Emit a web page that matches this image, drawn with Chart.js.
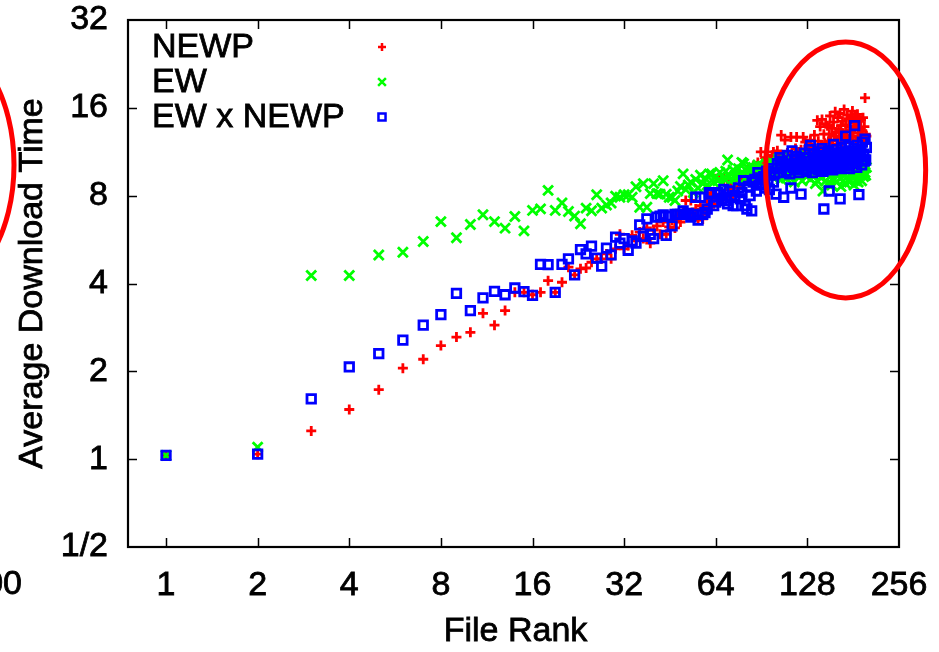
<!DOCTYPE html>
<html>
<head>
<meta charset="utf-8">
<script src="https://cdn.jsdelivr.net/npm/chart.js@4.4.0/dist/chart.umd.min.js"></script>
<style>
  html, body { margin: 0; padding: 0; background: #fff; }
  #chart { display: block; }
</style>
</head>
<body>
<canvas id="chart" width="939" height="652"></canvas>
<script>
const fileRankTicks = [1, 2, 4, 8, 16, 32, 64, 128, 256];
const timeTicks = [0.5, 1, 2, 4, 8, 16, 32];
const seriesNames = ['NEWP', 'EW', 'EW x NEWP'];
const xTitle = 'File Rank';
const yTitle = 'Average Download Time';

// average download time per file rank (rank 1..200)
const newpTimes = [
  1.03, 1.04, 1.25, 1.48, 1.73, 2.05, 2.20, 2.45, 2.62, 2.72,
  3.16, 2.88, 3.23, 3.73, 3.73, 3.66, 3.73, 4.09, 3.73, 4.04,
  4.55, 4.28, 4.49, 4.52, 4.73, 4.86, 4.86, 5.05, 4.86, 5.26,
  5.9, 5.26, 5.4, 5.85, 5.6, 6.0, 5.7, 6.2, 5.5, 6.1,
  6.3, 5.9, 6.5, 5.9, 6.25, 6.6, 6.2, 6.8, 6.5, 7.0,
  7.7, 6.8, 7.7, 6.9, 7.2, 6.6, 7.4, 6.66, 7.1, 7.6,
  7.8, 8.2, 7.5, 8.0, 7.7, 9.4, 8.1, 9.1, 7.9, 9.0,
  8.4, 8.8, 8.1, 9.0, 8.5, 9.3, 8.7, 9.2, 8.9, 9.6,
  9.1, 9.8, 9.3, 9.0, 10.1, 9.5, 9.9, 10.4, 9.4, 11.3,
  9.8, 10.2, 10.8, 9.7, 10.5, 10.1, 10.6, 11.0, 11.3, 10.4,
  10.6, 11.4, 10.2, 11.0, 12.9, 10.3, 10.8, 12.4, 10.5, 11.2,
  10.9, 10.4, 12.7, 11.1, 10.7, 10.5, 11.6, 12.7, 10.8, 11.3,
  10.8, 11.5, 11.0, 12.7, 10.6, 12.2, 11.3, 10.9, 11.8, 11.1,
  12.4, 11.2, 11.7, 10.7, 12.9, 11.4, 11.0, 14.5, 12.3, 11.6,
  13.8, 11.9, 14.6, 11.3, 13.0, 12.1, 14.1, 11.5, 13.9, 12.3,
  13.0, 15.0, 12.3, 13.6, 11.9, 14.3, 12.8, 15.5, 13.2, 12.0,
  14.8, 13.5, 12.6, 15.3, 13.9, 12.2, 14.4, 13.1, 15.8, 12.9,
  14.0, 13.3, 15.1, 12.5, 14.7, 13.8, 12.7, 14.9, 13.4, 15.6,
  12.8, 14.2, 13.6, 14.9, 12.4, 13.9, 15.2, 13.1, 14.6, 12.6,
  13.7, 14.5, 12.9, 13.3, 14.8, 12.2, 13.8, 17.3, 13.0, 12.8
];

const ewTimes = [
  1.03, 1.10, 4.26, 4.26, 5.01, 5.12, 5.57, 6.52, 5.74, 6.37,
  6.88, 6.52, 6.19, 6.79, 6.06, 7.12, 7.21, 8.34, 7.12, 7.56,
  7.06, 6.81, 6.41, 7.25, 7.10, 8.06, 7.25, 7.43, 7.55, 7.97,
  7.9, 8.06, 8.06, 7.9, 8.58, 7.3, 8.8, 7.3, 8.13, 8.8,
  8.13, 8.1, 9.0, 8.1, 7.9, 7.9, 7.7, 8.3, 8.6, 9.5,
  8.4, 8.7, 8.9, 8.2, 9.1, 8.5, 9.4, 8.8, 9.2, 8.7,
  9.5, 9.5, 8.9, 9.3, 9.0, 9.6, 8.8, 9.2, 9.7, 10.6,
  9.3, 9.0, 9.8, 9.4, 9.1, 9.9, 9.5, 10.4, 10.3, 9.2,
  9.7, 9.4, 10.1, 9.6, 10.0, 9.3, 9.9, 10.2, 9.5, 9.8,
  10.1, 9.4, 9.7, 10.3, 9.6, 9.9, 10.5, 9.3, 10.0, 9.7,
  10.2, 9.4, 10.7, 9.8, 9.1, 10.4, 9.6, 10.0, 9.2, 10.6,
  9.7, 10.9, 9.3, 10.1, 9.8, 8.9, 10.3, 9.5, 10.8, 9.9,
  9.4, 10.5, 9.0, 10.2, 9.7, 11.0, 9.3, 10.0, 9.6, 10.4,
  9.1, 10.7, 9.8, 9.4, 10.3, 8.8, 9.9, 9.0, 10.6, 9.5,
  10.1, 9.2, 10.8, 8.3, 9.7, 10.4, 9.0, 10.2, 8.8, 9.6,
  10.5, 9.3, 10.0, 8.7, 9.8, 10.9, 9.1, 10.3, 9.5, 8.9,
  10.1, 9.6, 10.6, 9.2, 8.6, 9.9, 10.4, 9.0, 10.7, 9.4,
  8.8, 10.2, 9.7, 10.5, 9.1, 8.9, 10.0, 9.5, 10.8, 9.3,
  9.8, 8.7, 10.3, 9.6, 9.0, 10.6, 9.2, 8.9, 10.1, 9.7,
  9.4, 10.4, 9.0, 9.8, 10.2, 9.3, 10.7, 9.6, 9.4, 10.0
];

const ewNewpTimes = [
  1.03, 1.04, 1.61, 2.07, 2.30, 2.56, 2.88, 3.13, 3.70, 3.23,
  3.57, 3.76, 3.66, 3.86, 3.75, 3.64, 4.65, 4.64, 3.73, 4.65,
  4.86, 4.28, 5.23, 5.05, 5.37, 4.89, 4.59, 5.29, 5.01, 5.77,
  5.5, 5.7, 5.2, 5.6, 5.5, 6.35, 5.8, 6.66, 5.9, 5.7,
  6.75, 6.8, 6.88, 5.85, 6.8, 6.3, 6.9, 6.9, 6.9, 7.1,
  6.9, 6.95, 6.76, 6.9, 7.9, 6.6, 7.9, 6.9, 7.0, 7.2,
  8.2, 8.1, 7.4, 7.6, 8.2, 8.1, 7.8, 8.4, 7.7, 7.5,
  8.3, 7.9, 7.4, 8.0, 7.4, 8.5, 7.8, 8.2, 9.0, 7.4,
  7.2, 8.6, 8.0, 7.1, 8.9, 9.1, 8.3, 9.6, 8.7, 9.2,
  8.8, 9.3, 8.5, 9.7, 9.0, 8.4, 9.4, 9.9, 8.9, 9.5,
  8.1, 10.3, 9.6, 10.8, 9.9, 10.5, 7.9, 10.1, 9.7, 11.0,
  10.2, 9.5, 8.5, 11.4, 10.0, 10.6, 9.8, 10.9, 10.3, 9.6,
  10.7, 8.1, 10.4, 9.9, 11.2, 10.1, 9.7, 10.8, 10.2, 11.5,
  11.9, 10.0, 9.6, 10.7, 11.1, 9.9, 10.4, 10.9, 9.8, 11.3,
  10.5, 10.0, 11.6, 9.7, 7.2, 10.6, 11.0, 9.9, 10.3, 11.4,
  8.3, 10.7, 10.1, 11.2, 9.8, 12.0, 10.4, 10.9, 10.0, 11.5,
  10.6, 9.9, 11.1, 7.8, 10.3, 11.7, 10.8, 10.2, 11.3, 10.5,
  12.8, 10.1, 11.0, 10.6, 11.8, 9.9, 10.7, 11.4, 10.3, 11.1,
  10.8, 11.6, 13.9, 10.4, 11.2, 10.0, 11.9, 10.7, 8.06, 11.3,
  10.9, 11.5, 10.2, 12.2, 10.6, 11.1, 10.5, 12.5, 10.6, 11.7
];

const FONT = "'Liberation Sans', Arial, sans-serif";

function byRank(values) {
  return values.map((v, i) => ({ x: i + 1, y: v }));
}

const seriesStyles = [
  { color: '#ff0000', pointStyle: 'cross', radius: 5, borderWidth: 2.8, order: 3 },
  { color: '#00ff00', pointStyle: 'crossRot', radius: 7, borderWidth: 2.8, order: 2 },
  { color: '#0000ff', pointStyle: 'rect', radius: 6, borderWidth: 2.8, order: 1 }
];
const seriesData = [newpTimes, ewTimes, ewNewpTimes];

const datasets = seriesNames.map((name, i) => ({
  label: name,
  data: byRank(seriesData[i]),
  pointStyle: seriesStyles[i].pointStyle,
  pointRadius: seriesStyles[i].radius,
  pointBorderWidth: seriesStyles[i].borderWidth,
  borderColor: seriesStyles[i].color,
  backgroundColor: 'rgba(0,0,0,0)',
  order: seriesStyles[i].order
}));

function noOverflow(s) {
  s.paddingLeft = 0;
  s.paddingRight = 0;
  s.paddingTop = 0;
  s.paddingBottom = 0;
}

function heavyText(ctx, text, x, y) {
  ctx.strokeText(text, x, y);
  ctx.fillText(text, x, y);
}

// frame with inward ticks, axis titles, legend and the red marker ellipses
const decorations = {
  id: 'decorations',
  afterDraw(chart) {
    const ctx = chart.ctx;
    const area = chart.chartArea;
    const xs = chart.scales.x;
    const ys = chart.scales.y;
    ctx.save();

    ctx.strokeStyle = '#000';
    ctx.lineWidth = 1.5;
    ctx.beginPath();
    fileRankTicks.forEach(v => {
      const px = Math.round(xs.getPixelForValue(v)) + 0.5;
      if (px < area.left + 2 || px > area.right - 2) return;
      ctx.moveTo(px, area.bottom); ctx.lineTo(px, area.bottom - 9);
      ctx.moveTo(px, area.top); ctx.lineTo(px, area.top + 9);
    });
    timeTicks.forEach(v => {
      const py = Math.round(ys.getPixelForValue(v)) + 0.5;
      if (py < area.top + 2 || py > area.bottom - 2) return;
      ctx.moveTo(area.left, py); ctx.lineTo(area.left + 9, py);
      ctx.moveTo(area.right, py); ctx.lineTo(area.right - 9, py);
    });
    ctx.stroke();

    ctx.lineWidth = 2.2;
    ctx.strokeRect(area.left, area.top, area.right - area.left, area.bottom - area.top);

    ctx.font = '34px ' + FONT;
    ctx.fillStyle = '#000';
    ctx.strokeStyle = '#000';
    ctx.lineWidth = 0.8;
    ctx.textBaseline = 'middle';

    // axis titles
    ctx.textAlign = 'center';
    heavyText(ctx, xTitle, (area.left + area.right) / 2 + 2, 632);
    ctx.save();
    ctx.translate(33, (area.top + area.bottom) / 2);
    ctx.rotate(-Math.PI / 2);
    heavyText(ctx, yTitle, 0, 0);
    ctx.restore();

    // legend
    ctx.textAlign = 'left';
    const legendY = [47, 82, 117];
    seriesNames.forEach((name, i) => {
      ctx.fillStyle = '#000';
      ctx.strokeStyle = '#000';
      ctx.lineWidth = 0.8;
      heavyText(ctx, name, 152, legendY[i] + 1);
      const st = seriesStyles[i];
      ctx.strokeStyle = st.color;
      ctx.fillStyle = 'rgba(0,0,0,0)';
      ctx.lineWidth = 2.5;
      Chart.helpers.drawPoint(ctx, {
        pointStyle: st.pointStyle,
        radius: i === 0 ? 4 : (i === 1 ? 5.5 : 5),
        rotation: 0,
        borderWidth: 2.5
      }, 382, legendY[i]);
    });

    // red ellipses
    ctx.strokeStyle = '#ff0000';
    ctx.lineWidth = 5;
    ctx.beginPath();
    ctx.ellipse(xs.getPixelForValue(171), ys.getPixelForValue(9.8), 80, 128, 0, 0, Math.PI * 2);
    ctx.stroke();
    ctx.beginPath();
    ctx.ellipse(-66, 165, 80, 128, 0, 0, Math.PI * 2);
    ctx.stroke();

    // stray label from neighbouring panel
    ctx.fillStyle = '#000';
    ctx.strokeStyle = '#000';
    ctx.lineWidth = 0.8;
    ctx.textAlign = 'right';
    heavyText(ctx, '100', 22, 585);
    ctx.restore();
  }
};

const ctx = document.getElementById('chart').getContext('2d');
new Chart(ctx, {
  type: 'scatter',
  data: { datasets: datasets },
  options: {
    responsive: false,
    animation: false,
    layout: { padding: { top: 20, right: 40, left: 0, bottom: 0 } },
    plugins: {
      legend: { display: false },
      tooltip: { enabled: false }
    },
    scales: {
      x: {
        type: 'logarithmic',
        min: 0.75,
        max: 256,
        grid: { display: false },
        border: { display: false },
        afterBuildTicks: s => { s.ticks = fileRankTicks.map(v => ({ value: v })); },
        afterFit: s => { s.height = 105; noOverflow(s); },
        ticks: {
          color: '#000',
          font: { family: FONT, size: 34 },
          textStrokeColor: '#000',
          textStrokeWidth: 0.8,
          padding: 10,
          maxRotation: 0,
          autoSkip: false,
          callback: v => String(v)
        }
      },
      y: {
        type: 'logarithmic',
        min: 0.5,
        max: 32,
        grid: { display: false },
        border: { display: false },
        afterBuildTicks: s => { s.ticks = timeTicks.map(v => ({ value: v })); },
        afterFit: s => { s.width = 128; noOverflow(s); },
        ticks: {
          color: '#000',
          font: { family: FONT, size: 34 },
          textStrokeColor: '#000',
          textStrokeWidth: 0.8,
          padding: 12,
          autoSkip: false,
          callback: v => (v === 0.5 ? '1/2' : String(v))
        }
      }
    }
  },
  plugins: [decorations]
});
</script>
</body>
</html>
